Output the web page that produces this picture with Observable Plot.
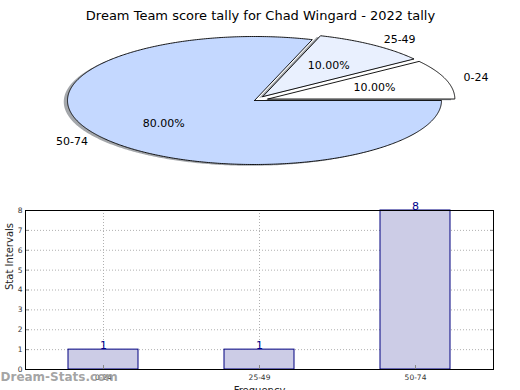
<!DOCTYPE html>
<html>
<head>
<meta charset="utf-8">
<script src="https://cdn.jsdelivr.net/npm/d3@7"></script>
<script src="https://cdn.jsdelivr.net/npm/@observablehq/plot@0.6"></script>
<style>
  html, body { margin: 0; padding: 0; background: #fff; }
  #wrap { position: relative; width: 520px; height: 390px; overflow: hidden; font-family: "DejaVu Sans", sans-serif; }
  #pie, #bar { position: absolute; left: 0; }
  #pie { top: 0; }
  #bar { top: 180px; }
</style>
</head>
<body>
<div id="wrap"><div id="pie"></div><div id="bar"></div></div>
<script>
// ---- data ----
const title = "Dream Team score tally for Chad Wingard - 2022 tally";
const categories = ["0-24", "25-49", "50-74"];
const counts = [1, 1, 8];
const sliceColors = ["#ffffff", "#e9f0fe", "#c4d8ff"];
const explode = [0.075, 0.075, 0];
const yLabel = "Stat Intervals";
const xLabel = "Frequency";
const watermark = "Dream-Stats.com";
const yTicks = [0, 1, 2, 3, 4, 5, 6, 7, 8];

const font = "DejaVu Sans, sans-serif";

// ---- pie geometry from data ----
const total = d3.sum(counts);
let acc = 0;
const slices = categories.map((c, i) => {
  const a0 = acc / total * 2 * Math.PI;
  acc += counts[i];
  const a1 = acc / total * 2 * Math.PI;
  const mid = (a0 + a1) / 2;
  const ox = explode[i] * Math.cos(mid), oy = explode[i] * Math.sin(mid);
  return {cat: c, i, a0, a1, mid, ox, oy, pct: counts[i] / total * 100};
});
function polygon(s, dx, dy) {
  const pts = [{x: s.ox + dx, y: s.oy + dy}];
  const n = Math.max(8, Math.ceil((s.a1 - s.a0) / 0.01));
  for (let k = 0; k <= n; k++) {
    const a = s.a0 + (s.a1 - s.a0) * k / n;
    pts.push({x: s.ox + dx + Math.cos(a), y: s.oy + dy + Math.sin(a)});
  }
  pts.push({x: s.ox + dx, y: s.oy + dy});
  return pts.map(p => ({...p, cat: s.cat}));
}
const shadowPts = slices.flatMap(s => polygon(s, -0.02, -0.02));
const slicePts = slices.flatMap(s => polygon(s, 0, 0));
const labelPts = slices.map(s => ({
  x: s.ox + 1.1 * Math.cos(s.mid), y: s.oy + 1.1 * Math.sin(s.mid), text: s.cat,
  anchor: Math.cos(s.mid) < 0 ? "end" : "start"
}));
const pctPts = slices.map(s => ({
  x: s.ox + 0.6 * Math.cos(s.mid), y: s.oy + 0.6 * Math.sin(s.mid), text: s.pct.toFixed(2) + "%"
}));

const pie = Plot.plot({
  width: 520, height: 180,
  marginTop: 0, marginBottom: 0, marginLeft: 0, marginRight: 0,
  style: {fontFamily: font, background: "transparent"},
  x: {domain: [-1, 1], range: [67, 441], axis: null},
  y: {domain: [-1, 1], range: [164, 36], axis: null},
  color: {type: "identity"},
  marks: [
    Plot.line(shadowPts, {x: "x", y: "y", z: "cat", fill: "#4a4f58", fillOpacity: 0.5, stroke: "none", curve: "linear"}),
    ...slices.map(s => Plot.line(polygon(s, 0, 0), {x: "x", y: "y", fill: sliceColors[s.i], stroke: "#000", strokeWidth: 0.9, strokeLinejoin: "miter", curve: "linear"})),
    Plot.text(labelPts.filter(d => d.anchor === "end"), {x: "x", y: "y", text: "text", textAnchor: "end", fontSize: 11, fill: "#000"}),
    Plot.text(labelPts.filter(d => d.anchor === "start"), {x: "x", y: "y", text: "text", textAnchor: "start", fontSize: 11, fill: "#000"}),
    Plot.text(pctPts, {x: "x", y: "y", text: "text", fontSize: 11, fill: "#000"}),
    Plot.text([title], {frameAnchor: "top", dy: 10, fontSize: 13, fill: "#000"})
  ]
});
document.getElementById("pie").appendChild(pie);

// ---- bar chart ----
const barData = categories.map((c, i) => ({cat: c, n: counts[i]}));
const bar = Plot.plot({
  width: 520, height: 210,
  marginTop: 30, marginBottom: 21, marginLeft: 25, marginRight: 27,
  style: {fontFamily: font, background: "transparent", overflow: "visible"},
  x: {domain: categories, paddingInner: 0.55, paddingOuter: 0.275, label: null},
  y: {domain: [0, 8], label: null},
  marks: [
    Plot.gridY(yTicks, {stroke: "#b0b0b0", strokeOpacity: 1, strokeDasharray: "1,2"}),
    Plot.gridX(categories, {stroke: "#b0b0b0", strokeOpacity: 1, strokeDasharray: "1,2"}),
    Plot.barY(barData, {x: "cat", y: "n", fill: "#cccce6", stroke: "#000080", strokeWidth: 1}),
    Plot.text(barData, {x: "cat", y: "n", text: d => String(d.n), lineAnchor: "bottom", dy: -1, fontSize: 11, fill: "#00008b"}),
    Plot.axisY(yTicks, {anchor: "left", tickSize: -4, tickPadding: 7, fontSize: 7.5, stroke: "#888", label: null, fill: "#333"}),
    Plot.axisY(yTicks, {anchor: "right", tickSize: -4, tickFormat: () => "", stroke: "#888", label: null}),
    Plot.axisX(categories, {anchor: "bottom", tickSize: -4, tickPadding: 9, fontSize: 7.5, stroke: "#888", label: null, fill: "#333"}),
    Plot.frame({stroke: "#000", strokeWidth: 1}),
    Plot.text([yLabel], {frameAnchor: "left", dx: -16, rotate: -90, fontSize: 10, fill: "#222"}),
    Plot.text([xLabel], {frameAnchor: "bottom", dy: 17, lineAnchor: "top", fontSize: 10, fill: "#222"}),
    Plot.text([watermark], {frameAnchor: "bottom-left", dx: -25, dy: 11, textAnchor: "start", fontSize: 12, fill: "#999", fontWeight: "bold", fillOpacity: 0.9})
  ]
});
document.getElementById("bar").appendChild(bar);
</script>
</body>
</html>
